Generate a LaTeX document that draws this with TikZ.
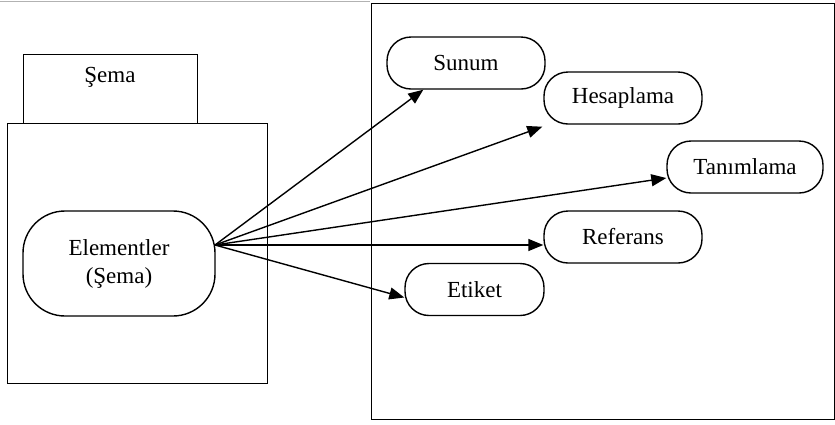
\documentclass[tikz,border=0pt]{standalone}
\usepackage{fontspec}
\setmainfont{Liberation Serif}
\usetikzlibrary{arrows.meta,calc}
\begin{document}
\begin{tikzpicture}[x=1pt,y=-1pt,
  box/.style={draw,line width=1.4pt,rectangle,inner sep=0pt},
  pill/.style={draw,line width=1.4pt,rectangle,rounded corners=24pt,minimum width=158pt,minimum height=52pt,inner sep=0pt,font=\fontsize{23}{28}\selectfont},
  arr/.style={line width=1.4pt,-{Triangle[length=15pt,width=12pt]}}]
\useasboundingbox (0,0) rectangle (835,424);
\draw[gray!60,line width=1pt] (0,1) -- (370,1);
% left boxes
\node[box,minimum width=174pt,minimum height=69pt,anchor=north west,font=\fontsize{23}{28}\selectfont] (sematab) at (23,54) {};
\node[font=\fontsize{23}{28}\selectfont] (sematxt) at (110,77) {Şema};
\node[box,minimum width=260pt,minimum height=260pt,anchor=north west] (leftbox) at (7,123) {};
\node[draw,line width=1.4pt,rectangle,rounded corners=42pt,minimum width=192pt,minimum height=105pt,inner sep=0pt,align=center,font=\fontsize{23}{28}\selectfont] (el) at (119,263.5) {Elementler\\(Şema)};
% right box
\node[box,minimum width=463pt,minimum height=416pt,anchor=north west] (rightbox) at (371,3) {};
\node[pill] (sunum) at (466,63) {Sunum};
\node[pill] (hesap) at (623,98) {Hesaplama};
\node[pill,minimum width=156pt] (tanim) at (745,167) {Tanımlama};
\node[pill] (ref) at (623,237) {Referans};
\node[pill,minimum width=139pt] (etiket) at (474.5,289.5) {Etiket};
% arrows
\coordinate (src) at (215,245);
\coordinate (tS) at ($(sunum.south west)+(37,0)$);
\coordinate (tH) at ($(hesap.south west)+(-1,2)$);
\coordinate (tT) at ($(tanim.west)+(0,11)$);
\coordinate (tR) at (ref.west |- src);
\coordinate (tE) at ($(etiket.west)+(0,8)$);
\draw[arr] (src) -- (tS);
\draw[arr] (src) -- (tH);
\draw[arr] (src) -- (tT);
\draw[arr] (src) -- (tR);
\draw[arr] (src) -- (tE);
\end{tikzpicture}
\end{document}
